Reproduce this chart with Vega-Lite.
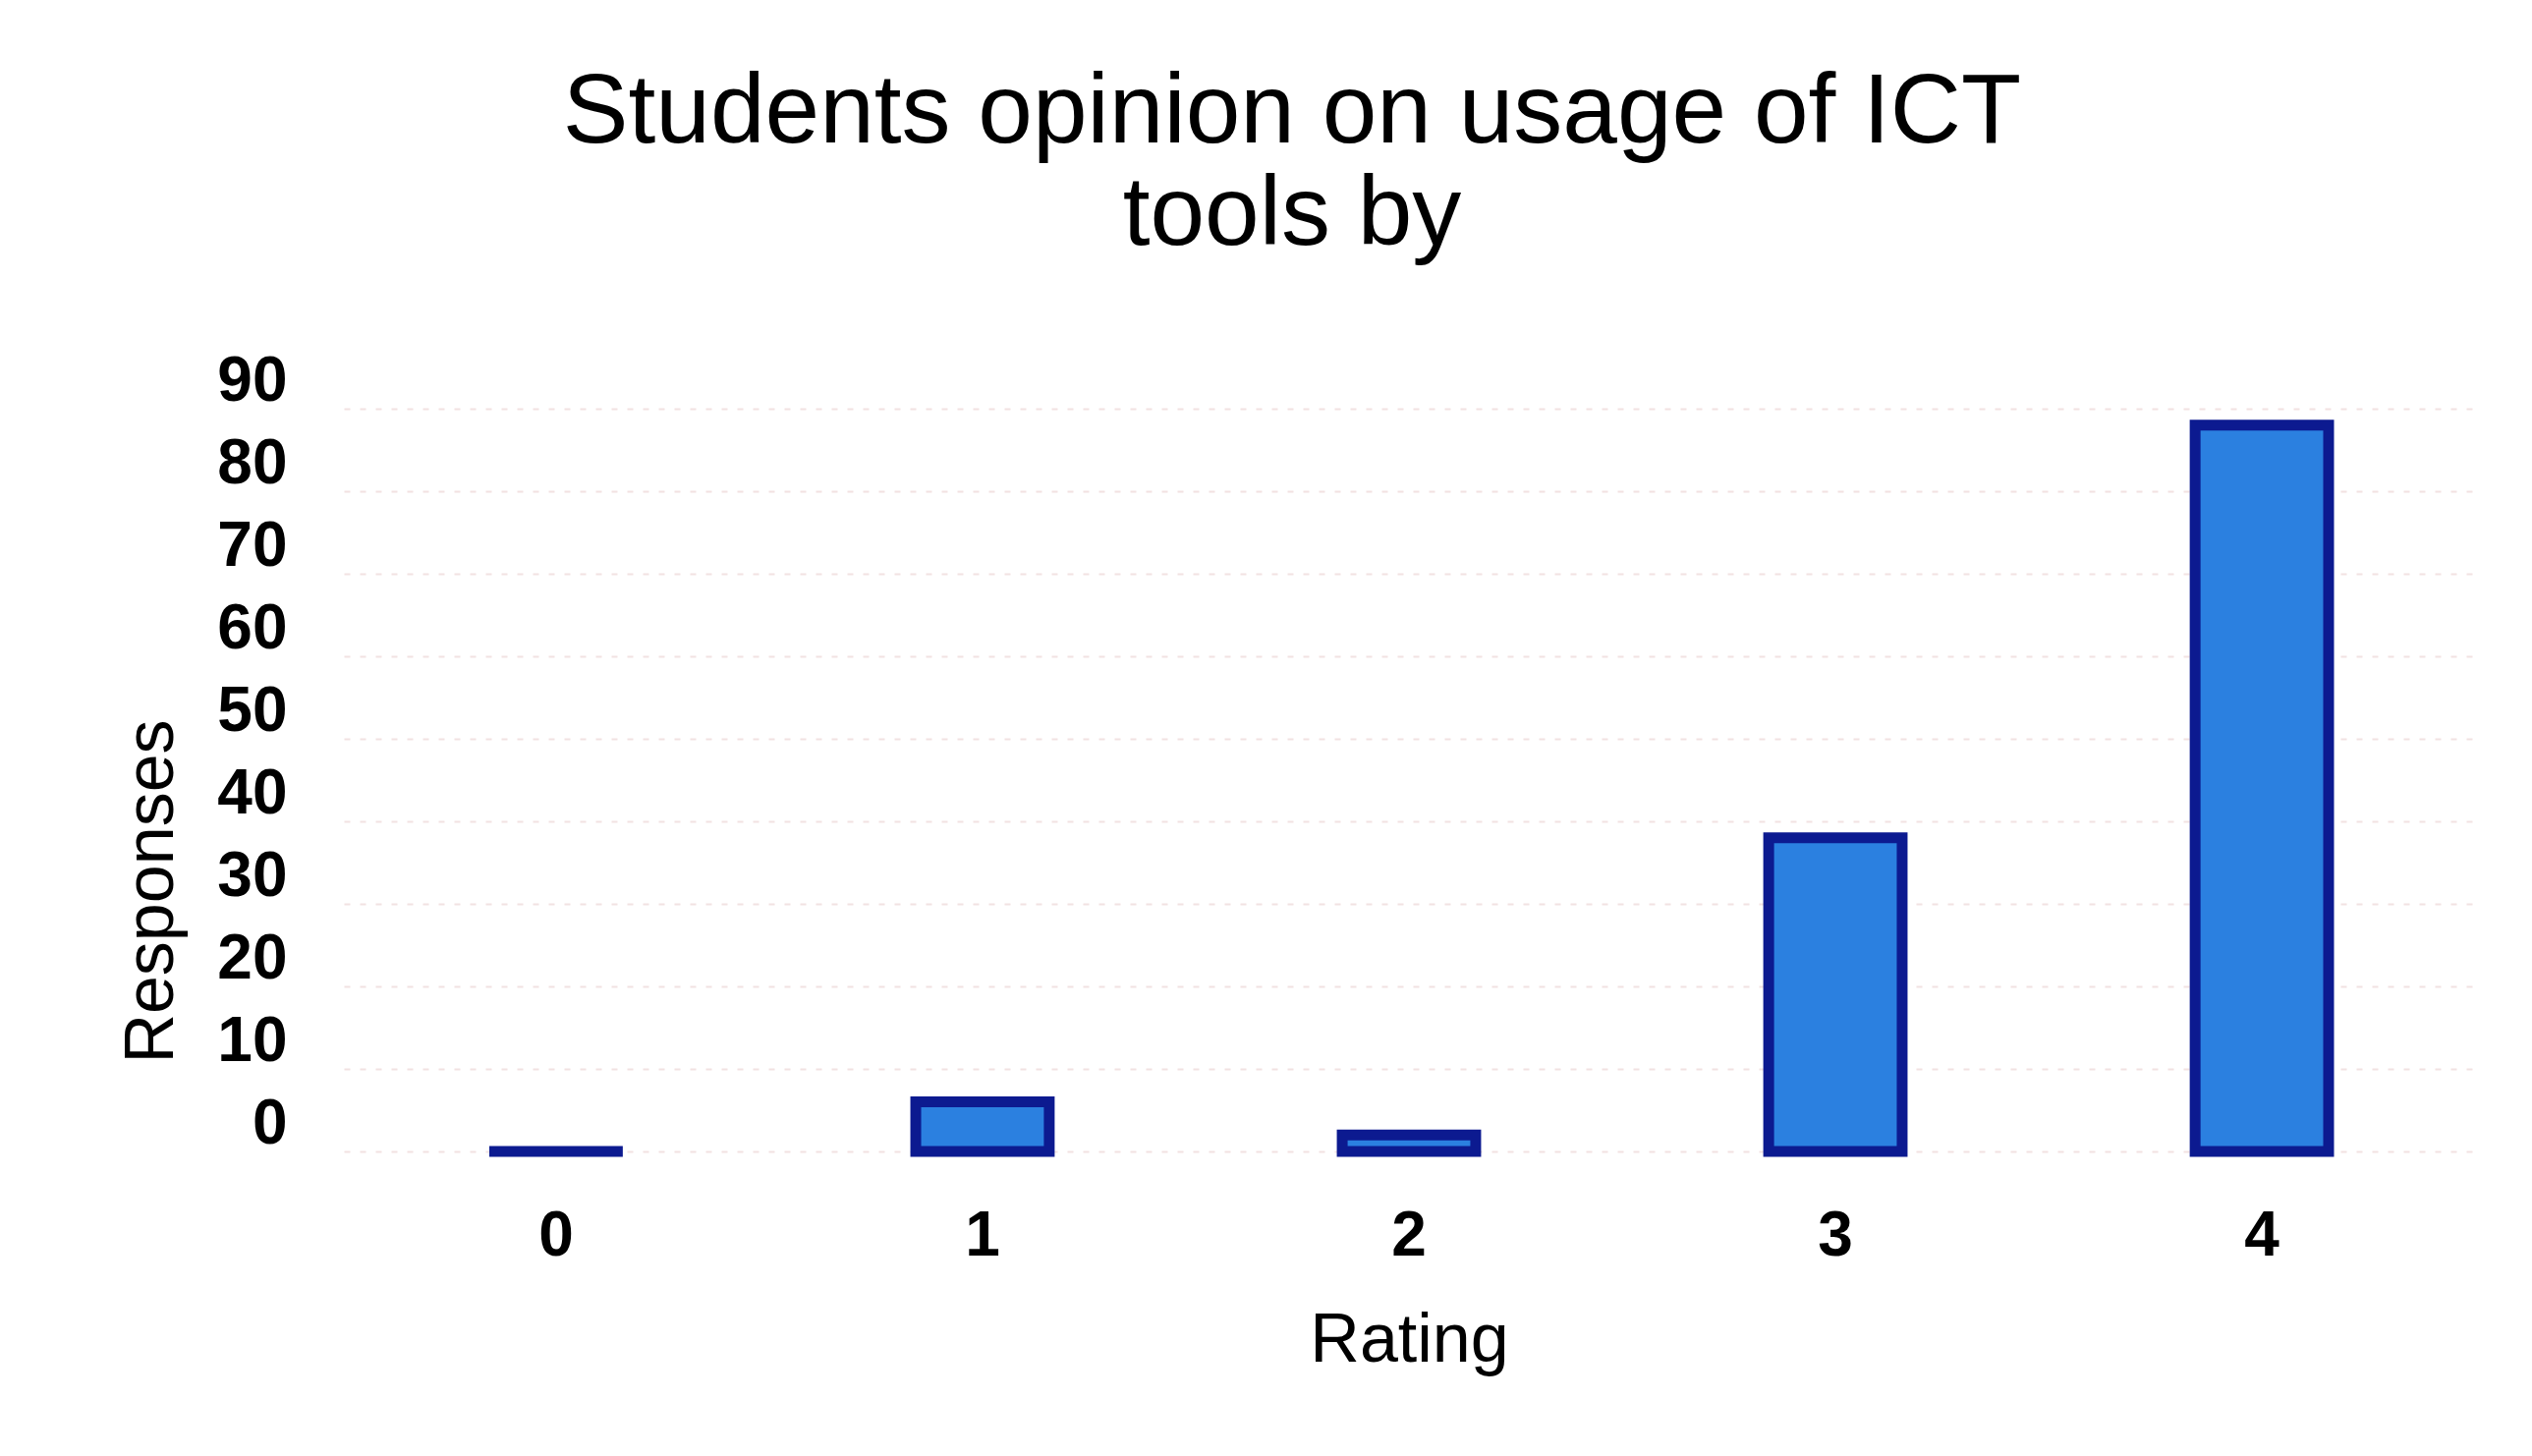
{
  "$schema": "https://vega.github.io/schema/vega-lite/v6.json",
  "autosize": {"type": "none"},
  "width": 2168,
  "height": 756,
  "padding": {"left": 350, "top": 416, "right": 59, "bottom": 310},
  "background": "white",
  "title": {
    "text": ["Students opinion on usage of ICT", "tools by"],
    "font": "Liberation Sans",
    "fontSize": 100,
    "fontWeight": "normal",
    "lineHeight": 104,
    "color": "#000000",
    "anchor": "middle",
    "dx": -119,
    "offset": 86
  },
  "data": {
    "values": [
      {"Rating": "0", "Responses": 0},
      {"Rating": "1", "Responses": 6},
      {"Rating": "2", "Responses": 2},
      {"Rating": "3", "Responses": 38},
      {"Rating": "4", "Responses": 88}
    ]
  },
  "mark": {"type": "bar", "fill": "#2b80e0", "stroke": "#0c1a90", "strokeWidth": 11},
  "encoding": {
    "x": {
      "field": "Rating",
      "type": "ordinal",
      "sort": null,
      "scale": {"paddingInner": 0.687, "paddingOuter": 0.341},
      "axis": {
        "title": "Rating",
        "labelAngle": 0,
        "labelFont": "Liberation Sans",
        "labelFontWeight": "bold",
        "labelFontSize": 64,
        "labelColor": "#000000",
        "labelPadding": 54,
        "ticks": false,
        "domain": false,
        "grid": false,
        "titleFont": "Liberation Sans",
        "titleFontSize": 70,
        "titleFontWeight": "normal",
        "titleColor": "#000000",
        "titlePadding": 40
      }
    },
    "y": {
      "field": "Responses",
      "type": "quantitative",
      "scale": {"domain": [0, 90], "nice": false},
      "axis": {
        "title": "Responses",
        "values": [0, 10, 20, 30, 40, 50, 60, 70, 80, 90],
        "labelFont": "Liberation Sans",
        "labelFontWeight": "bold",
        "labelFontSize": 64,
        "labelColor": "#000000",
        "labelPadding": 58,
        "labelOffset": -28,
        "ticks": false,
        "domain": false,
        "grid": true,
        "gridColor": "#f2e2e2",
        "gridDash": [6, 10],
        "gridWidth": 2,
        "titleFont": "Liberation Sans",
        "titleFontSize": 70,
        "titleFontWeight": "normal",
        "titleColor": "#000000",
        "titlePadding": 30,
        "titleY": 491
      }
    }
  },
  "config": {"view": {"stroke": null}}
}
